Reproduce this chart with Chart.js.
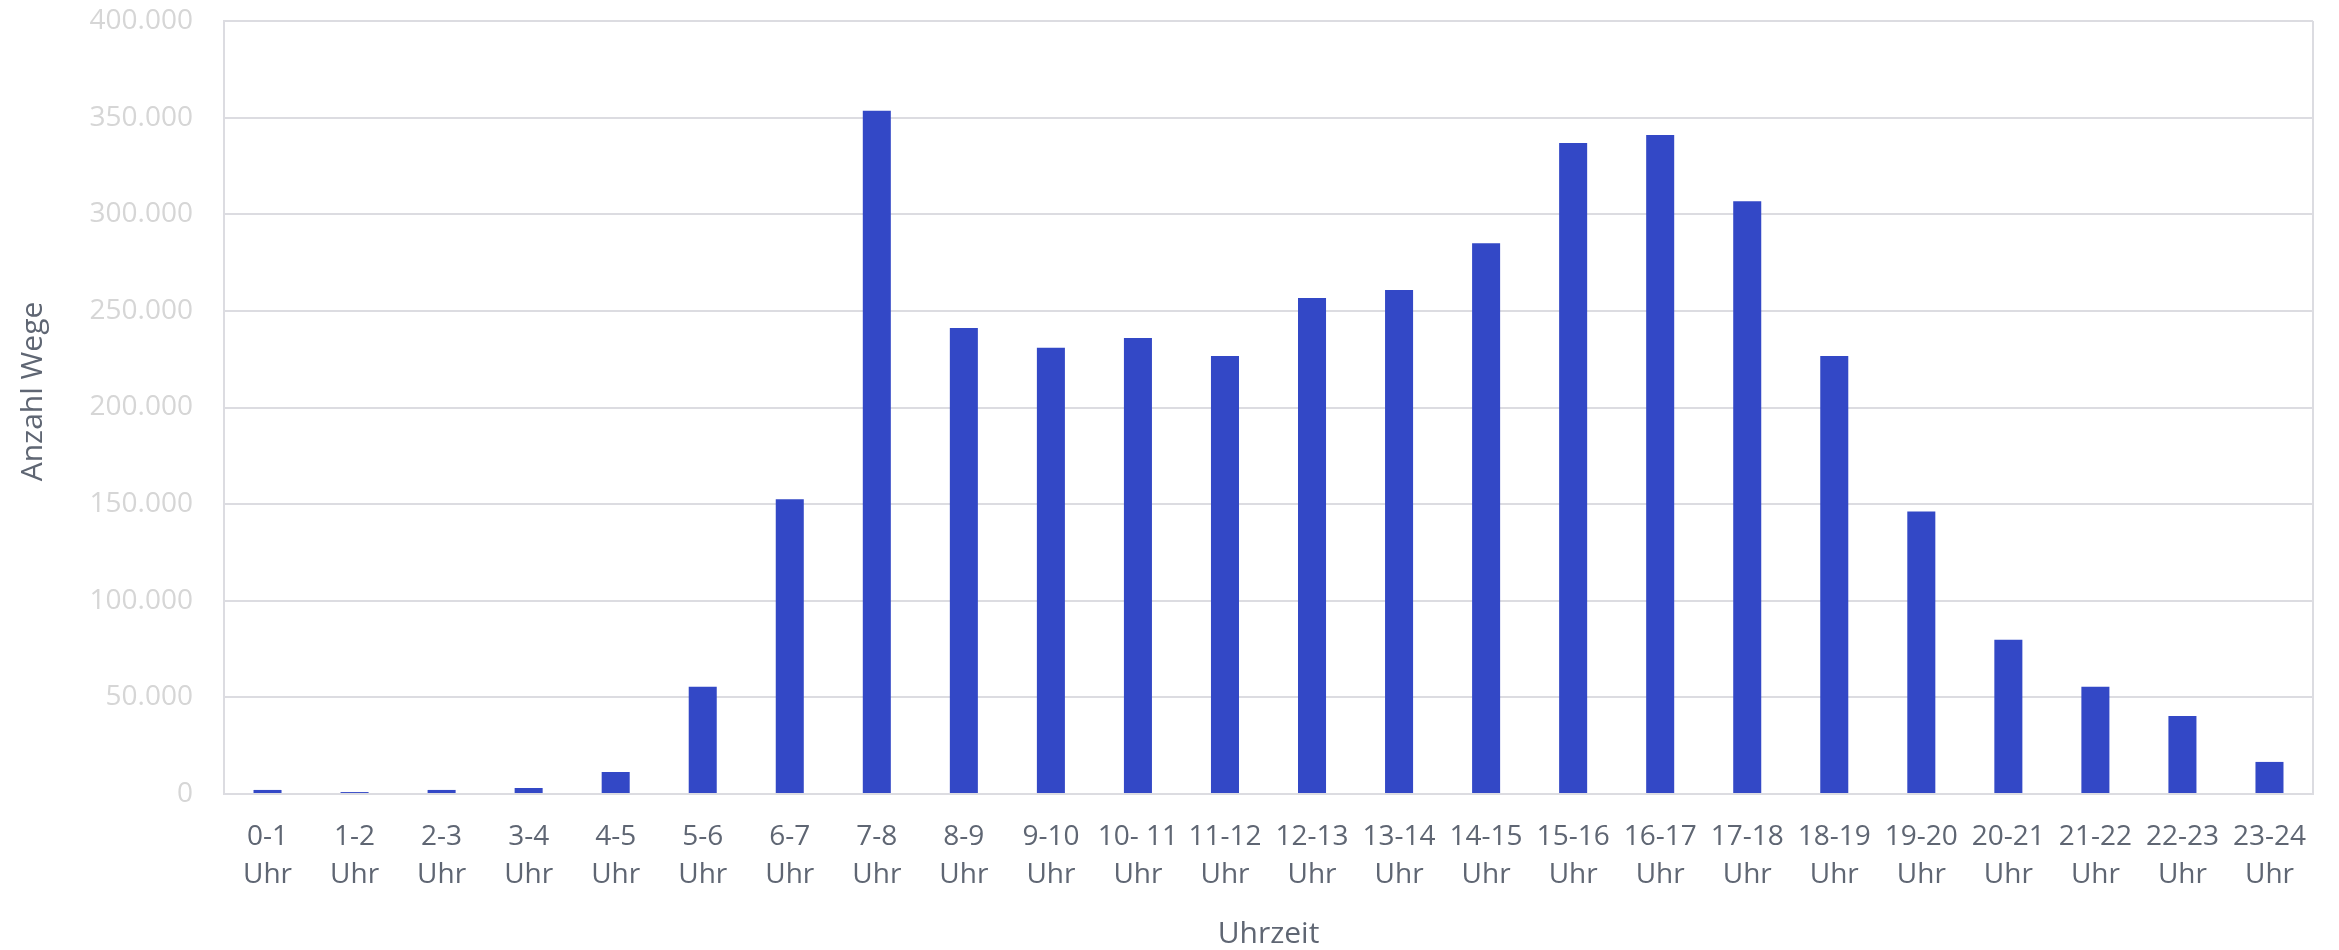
<!DOCTYPE html>
<html lang="de">
<head>
<meta charset="utf-8">
<title>Anzahl Wege nach Uhrzeit</title>
<script src="https://cdn.jsdelivr.net/npm/chart.js@4.4.1/dist/chart.umd.min.js"></script>
<style>
  html, body { margin: 0; padding: 0; background: #ffffff; }
  #wrap { width: 2339px; height: 950px; position: relative; }
</style>
</head>
<body>
<div id="wrap"><canvas id="chart" width="2339" height="950"></canvas></div>
<script>
// Stundenintervalle
const hourRanges = [
  '0-1', '1-2', '2-3', '3-4', '4-5', '5-6', '6-7', '7-8', '8-9', '9-10',
  '10- 11', '11-12', '12-13', '13-14', '14-15', '15-16', '16-17', '17-18',
  '18-19', '19-20', '20-21', '21-22', '22-23', '23-24'
];
const unitLabel = 'Uhr';

// Anzahl Wege je Stunde
const tripCounts = [
  2100, 1000, 2100, 3100, 11400, 55500, 152500, 353600, 241200, 230900,
  236000, 226700, 256600, 260800, 285000, 336900, 341000, 306700,
  226600, 146200, 79800, 55500, 40400, 16600
];

// Achsenbeschriftungen
const yTickValues = [0, 50000, 100000, 150000, 200000, 250000, 300000, 350000, 400000];
const xAxisTitle = 'Uhrzeit';
const yAxisTitle = 'Anzahl Wege';

const labels = hourRanges.map(r => [r, unitLabel]);

function formatThousands(v) {
  return String(Math.round(v)).replace(/\B(?=(\d{3})+(?!\d))/g, '.');
}

const gridColor = '#dcdce1';
const textColor = '#5f6673';
const tickGray = '#d6d6d6';
const fontFamily = '"Open Sans", "Liberation Sans", sans-serif';

// rechte Rahmenlinie der Zeichenfläche und senkrechter Achsentitel
const framePlugin = {
  id: 'framePlugin',
  beforeDatasetsDraw(chart) {
    const { ctx, chartArea } = chart;
    ctx.save();
    ctx.strokeStyle = gridColor;
    ctx.lineWidth = 2;
    ctx.beginPath();
    ctx.moveTo(chartArea.right, chartArea.top);
    ctx.lineTo(chartArea.right, chartArea.bottom + 1);
    ctx.stroke();
    ctx.restore();
  },
  afterDraw(chart) {
    const { ctx, chartArea } = chart;
    const cy = (chartArea.top + chartArea.bottom) / 2 - 16;
    ctx.save();
    ctx.translate(33, cy);
    ctx.rotate(-Math.PI / 2);
    ctx.fillStyle = textColor;
    ctx.font = '30px ' + fontFamily;
    ctx.textAlign = 'center';
    ctx.textBaseline = 'middle';
    ctx.fillText(yAxisTitle, 0, 0);
    ctx.restore();
  }
};

new Chart(document.getElementById('chart'), {
  type: 'bar',
  data: {
    labels: labels,
    datasets: [{
      label: yAxisTitle,
      data: tripCounts,
      backgroundColor: '#3348c6',
      borderWidth: 0,
      categoryPercentage: 1.0,
      barPercentage: 0.322
    }]
  },
  options: {
    responsive: false,
    animation: false,
    devicePixelRatio: 1,
    layout: { padding: { top: 21, right: 26, bottom: 0, left: 0 } },
    plugins: {
      legend: { display: false },
      tooltip: { enabled: false }
    },
    scales: {
      x: {
        grid: { display: false, drawTicks: false },
        border: { display: true, color: gridColor, width: 2 },
        ticks: {
          color: textColor,
          padding: 24,
          maxRotation: 0,
          autoSkip: false,
          font: { family: fontFamily, size: 28, lineHeight: 1.357 }
        },
        title: {
          display: true,
          text: xAxisTitle,
          color: textColor,
          font: { family: fontFamily, size: 30, lineHeight: 1.0 },
          padding: { top: 0, bottom: 1 }
        },
        afterFit(scale) {
          scale.height = 156;
          scale.paddingLeft = 0;
          scale.paddingRight = 0;
        }
      },
      y: {
        min: 0,
        max: 400000,
        grid: { color: gridColor, lineWidth: 2, drawTicks: false },
        border: { display: true, color: gridColor, width: 2 },
        afterBuildTicks(scale) { scale.ticks = yTickValues.map(v => ({ value: v })); },
        ticks: {
          color: tickGray,
          padding: 31,
          font: { family: fontFamily, size: 28 },
          callback: v => formatThousands(v)
        },
        title: { display: false, text: yAxisTitle },
        afterFit(scale) {
          scale.width = 224;
          scale.paddingTop = 0;
          scale.paddingBottom = 0;
        }
      }
    }
  },
  plugins: [framePlugin]
});
</script>
</body>
</html>
